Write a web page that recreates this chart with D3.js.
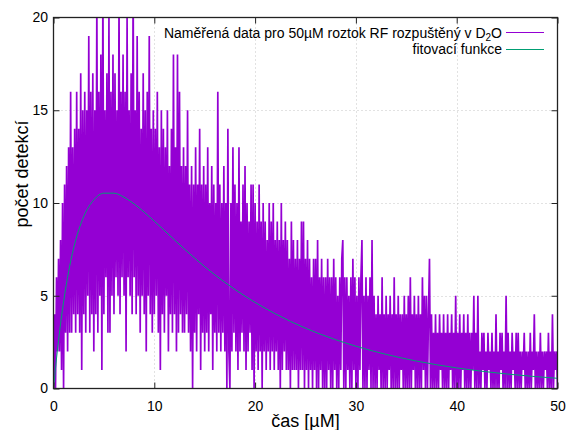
<!DOCTYPE html>
<html><head><meta charset="utf-8">
<script src="https://cdn.jsdelivr.net/npm/d3@7"></script>
<style>
body{margin:0;background:#fff}
svg{display:block}
text{font-family:"Liberation Sans",Arial,Helvetica,sans-serif;fill:#000}
</style>
</head><body>
<svg id="chart" width="571" height="430"></svg>
<script>
// measured counts, one value every 0.1 µs from t = 0 to t = 50
const counts = [
0,4,0,6,2,7,2,8,1,10,
0,11,3,12,2,13,3,16,3,13,
4,14,3,16,4,14,3,17,1,15,
4,16,3,15,5,19,3,16,4,17,
2,15,4,21,3,16,5,18,1,22,
4,15,6,17,3,20,3,16,5,18,
4,17,6,15,5,21,4,16,6,18,
5,16,2,20,6,15,5,17,4,22,
6,15,4,19,5,16,3,14,5,17,
4,15,2,16,5,19,4,14,3,15,
4,14,5,16,3,13,1,15,4,14,
3,13,5,15,2,12,4,14,3,18,
4,13,2,18,3,16,4,12,3,13,
3,12,4,15,3,11,2,12,0,11,
3,13,2,11,4,14,1,11,3,12,
2,11,3,13,2,10,4,12,1,11,
3,10,2,16,3,11,2,10,3,12,
2,10,0,14,2,0,10,2,13,3,
11,2,10,1,13,2,9,3,11,2,
12,1,10,2,9,3,11,1,11,0,
10,2,9,1,11,2,9,0,10,2,
9,1,8,2,10,1,9,2,10,1,
8,2,9,1,8,0,10,1,8,2,
9,1,8,1,7,0,9,1,8,1,
7,1,8,0,7,1,9,1,9,0,
7,1,8,0,7,1,6,0,7,1,
7,0,8,0,6,1,7,0,6,0,
6,0,7,1,6,0,6,0,7,1,
6,0,5,0,6,1,7,8,0,6,
0,6,1,5,0,6,0,7,1,6,
0,5,0,6,1,6,8,0,5,0,
6,0,5,1,6,0,8,0,5,0,
4,0,5,1,4,0,6,0,4,0,
5,0,4,1,5,0,4,0,6,0,
4,0,5,0,4,1,4,0,5,0,
4,0,5,0,6,0,4,1,5,0,
4,0,5,0,4,0,6,1,5,0,
5,0,4,7,0,4,0,3,0,4,
0,3,0,4,1,3,0,4,0,3,
0,4,0,3,1,4,0,3,0,5,
0,3,0,4,0,3,1,4,0,3,
0,4,0,3,0,3,1,5,0,3,
0,5,0,2,0,3,1,3,0,2,
0,3,1,2,0,3,0,2,0,4,
0,2,0,3,1,3,0,2,0,5,
0,3,0,2,0,3,1,2,0,3,
0,3,0,2,0,2,1,3,0,2,
0,2,0,3,0,2,1,4,0,2,
0,2,0,3,0,2,0,2,1,2,
0,3,0,2,0,4,0,2,1,2,
0
];
const tStart = 0, tStep = 0.1;

// fitted curve, values
const fitT = [0,0.25,0.5,1,1.5,2,2.5,3,4,5,6,7,8,10,12,14,16,18,20,22,25,28,30,33,36,40,45,50];
const fitY = [0,1.37,2.60,4.67,6.30,7.57,8.54,9.27,10.17,10.53,10.53,10.31,9.95,9.02,8.01,7.03,6.13,5.34,4.64,4.03,3.25,2.63,2.28,1.84,1.48,1.11,0.78,0.55];

const xTicks = [0,10,20,30,40,50];
const yTicks = [0,5,10,15,20];
const xLabel = "čas [µM]";
const yLabel = "počet detekcí";
const legendData = ["Naměřená data pro 50µM roztok RF rozpuštěný v D", "2", "O"];
const legendFit = "fitovací funkce";

const dataColor = "#9400d3", fitColor = "#009e73", axisColor = "#222";

const svg = d3.select("#chart");
const L = 53.5, R = 557.5, T = 17.5, B = 388.5;
const x = d3.scaleLinear().domain([0,50]).range([L,R]);
const y = d3.scaleLinear().domain([0,20]).range([B,T]);

// grid
const grid = svg.append("g").attr("stroke","#c4c4c4").attr("stroke-width",1).attr("stroke-dasharray","1,3");
grid.selectAll(".gx").data(xTicks.slice(1,-1)).join("line")
  .attr("x1",d=>Math.round(x(d))+0.5).attr("x2",d=>Math.round(x(d))+0.5).attr("y1",B).attr("y2",T);
grid.selectAll(".gy").data(yTicks.slice(1,-1)).join("line")
  .attr("y1",d=>Math.round(y(d))+0.5).attr("y2",d=>Math.round(y(d))+0.5).attr("x1",L).attr("x2",R);

// clip
svg.append("clipPath").attr("id","clip").append("rect")
  .attr("x",L).attr("y",T).attr("width",R-L).attr("height",B-T);

const pts = counts.map((v,i)=>[tStart+i*tStep, v]);
const line = d3.line().x(d=>x(d[0])).y(d=>y(d[1]));
svg.append("path").attr("clip-path","url(#clip)")
  .attr("d", line(pts)).attr("fill","none").attr("stroke",dataColor)
  .attr("stroke-width",1.7).attr("stroke-linejoin","bevel");

const fitLine = d3.line().x(d=>x(d[0])).y(d=>y(d[1])).curve(d3.curveMonotoneX);
svg.append("path").attr("clip-path","url(#clip)")
  .attr("d", fitLine(fitT.map((t,i)=>[t,fitY[i]]))).attr("fill","none")
  .attr("stroke",fitColor).attr("stroke-width",1);

// axes
function style(g){
  g.select(".domain").remove();
  g.selectAll(".tick line").attr("stroke",axisColor);
  g.selectAll(".tick text").attr("font-size",14).attr("fill","#000")
   .attr("font-family","'Liberation Sans',Arial,sans-serif");
}
svg.append("g").attr("transform",`translate(0,${B})`)
  .call(d3.axisBottom(x).tickValues(xTicks).tickSize(-6).tickPadding(12.5).tickFormat(d3.format("d"))).call(style);
svg.append("g").attr("transform",`translate(${L},0)`)
  .call(d3.axisLeft(y).tickValues(yTicks).tickSize(-6).tickPadding(5.5).tickFormat(d3.format("d"))).call(style);
svg.append("g").attr("transform",`translate(0,${T})`)
  .call(d3.axisTop(x).tickValues(xTicks).tickSize(-6).tickFormat("")).call(style);
svg.append("g").attr("transform",`translate(${R},0)`)
  .call(d3.axisRight(y).tickValues(yTicks).tickSize(-6).tickFormat("")).call(style);

svg.append("rect").attr("x",L).attr("y",T).attr("width",R-L).attr("height",B-T)
  .attr("fill","none").attr("stroke",axisColor).attr("stroke-width",1.3);

// labels
svg.append("text").attr("x",(L+R)/2).attr("y",427).attr("text-anchor","middle")
  .attr("font-size",18).text(xLabel);
svg.append("text").attr("transform","translate(28,174) rotate(-90)").attr("text-anchor","middle")
  .attr("font-size",18).text(yLabel);

// legend
const lg = svg.append("g").attr("font-size",14);
const t1 = lg.append("text").attr("x",502).attr("y",37.5).attr("text-anchor","end");
t1.append("tspan").text(legendData[0]);
t1.append("tspan").attr("font-size",10).attr("dy",3).text(legendData[1]);
t1.append("tspan").attr("dy",-3).text(legendData[2]);
lg.append("line").attr("x1",506).attr("x2",544).attr("y1",32.5).attr("y2",32.5)
  .attr("stroke",dataColor).attr("stroke-width",1);
lg.append("text").attr("x",502).attr("y",54).attr("text-anchor","end").text(legendFit);
lg.append("line").attr("x1",506).attr("x2",544).attr("y1",49.5).attr("y2",49.5)
  .attr("stroke",fitColor).attr("stroke-width",1);
</script>
</body></html>
